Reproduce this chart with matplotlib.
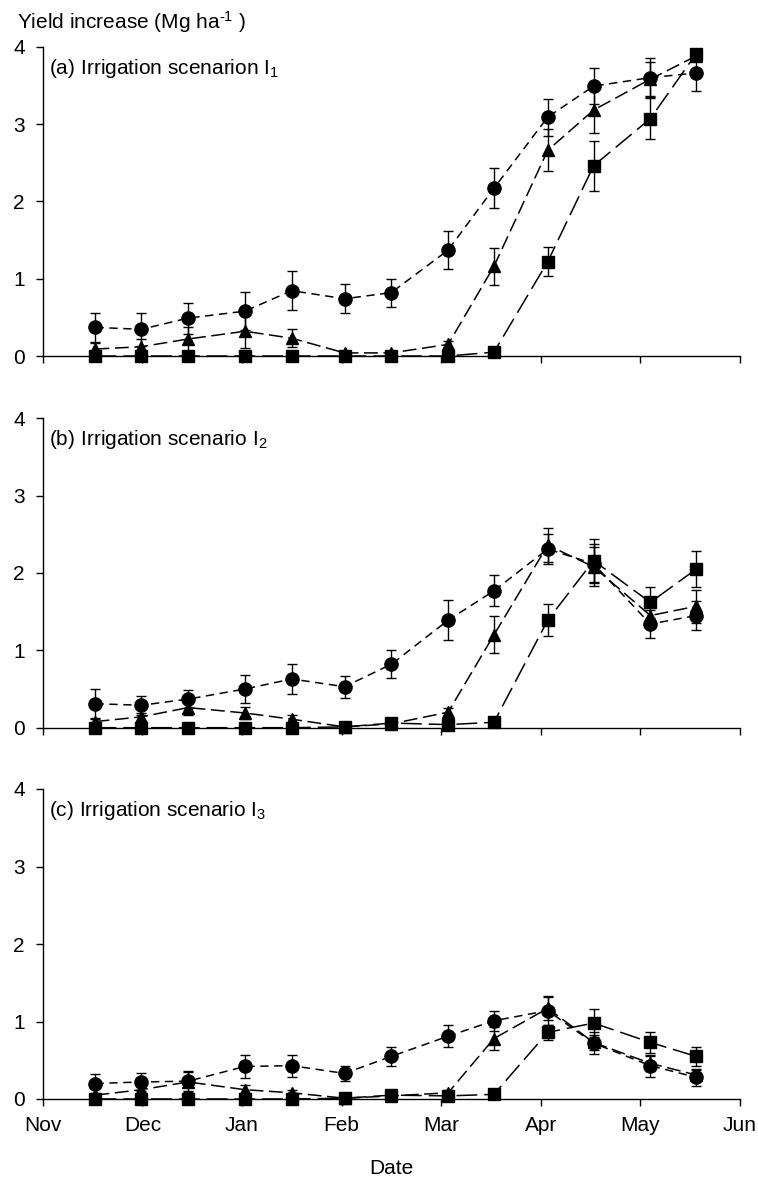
import matplotlib
matplotlib.use("Agg")
import matplotlib.pyplot as plt

plt.rcParams['font.family'] = ['Liberation Sans', 'DejaVu Sans']
plt.rcParams['mathtext.fontset'] = 'custom'
plt.rcParams['mathtext.rm'] = 'Liberation Sans'
plt.rcParams['mathtext.it'] = 'Liberation Sans'
plt.rcParams['lines.scale_dashes'] = False

# x positions: months after 1 Nov
x_dates = [0.53, 0.99, 1.46, 2.03, 2.50, 3.03, 3.50, 4.07, 4.53, 5.07, 5.53, 6.10, 6.56]
month_labels = ['Nov', 'Dec', 'Jan', 'Feb', 'Mar', 'Apr', 'May', 'Jun']

# Panel (a)
a_circ = [0.37, 0.345, 0.49, 0.58, 0.845, 0.74, 0.82, 1.37, 2.17, 3.09, 3.49, 3.60, 3.66]
a_circ_err = [0.19, 0.21, 0.20, 0.25, 0.25, 0.19, 0.18, 0.25, 0.26, 0.24, 0.23, 0.25, 0.23]
a_tri = [0.09, 0.12, 0.22, 0.32, 0.23, 0.04, 0.04, 0.15, 1.16, 2.66, 3.18, 3.58, 3.88]
a_tri_err = [0.08, 0.10, 0.15, 0.22, 0.12, 0.03, 0.03, 0.05, 0.24, 0.27, 0.29, 0.22, 0.05]
a_sq = [0, 0, 0, 0, 0, 0, 0, 0, 0.05, 1.22, 2.46, 3.07, 3.91]
a_sq_err = [0.01, 0.01, 0.01, 0.01, 0.01, 0.01, 0.01, 0.01, 0.03, 0.19, 0.32, 0.27, 0.05]

# Panel (b)
b_circ = [0.31, 0.29, 0.37, 0.50, 0.63, 0.53, 0.82, 1.39, 1.77, 2.31, 2.12, 1.34, 1.45]
b_circ_err = [0.19, 0.12, 0.12, 0.18, 0.19, 0.14, 0.18, 0.26, 0.20, 0.20, 0.25, 0.18, 0.19]
b_tri = [0.08, 0.14, 0.26, 0.19, 0.11, 0.01, 0.05, 0.20, 1.20, 2.36, 2.08, 1.45, 1.57]
b_tri_err = [0.03, 0.05, 0.10, 0.08, 0.05, 0.02, 0.02, 0.05, 0.24, 0.22, 0.25, 0.15, 0.21]
b_sq = [0, 0, 0, 0, 0, 0.01, 0.06, 0.04, 0.07, 1.39, 2.16, 1.62, 2.05]
b_sq_err = [0.01, 0.01, 0.01, 0.01, 0.01, 0.02, 0.02, 0.02, 0.03, 0.21, 0.28, 0.20, 0.23]

# Panel (c)
c_circ = [0.20, 0.22, 0.23, 0.42, 0.43, 0.33, 0.55, 0.81, 1.01, 1.14, 0.72, 0.43, 0.28]
c_circ_err = [0.12, 0.12, 0.13, 0.15, 0.14, 0.10, 0.12, 0.14, 0.13, 0.19, 0.14, 0.14, 0.11]
c_tri = [0.05, 0.12, 0.22, 0.12, 0.08, 0.01, 0.04, 0.08, 0.78, 1.17, 0.73, 0.46, 0.31]
c_tri_err = [0.02, 0.04, 0.13, 0.06, 0.04, 0.01, 0.02, 0.03, 0.15, 0.15, 0.10, 0.10, 0.07]
c_sq = [0, 0, 0, 0, 0, 0.01, 0.05, 0.04, 0.06, 0.86, 0.98, 0.73, 0.55]
c_sq_err = [0.01, 0.01, 0.01, 0.01, 0.01, 0.01, 0.02, 0.02, 0.02, 0.10, 0.18, 0.13, 0.12]

panel_titles = [r'(a) Irrigation scenarion I$_{\mathregular{1}}$',
                r'(b) Irrigation scenario I$_{\mathregular{2}}$',
                r'(c) Irrigation scenario I$_{\mathregular{3}}$']

panels = [
    (a_sq, a_sq_err, a_tri, a_tri_err, a_circ, a_circ_err),
    (b_sq, b_sq_err, b_tri, b_tri_err, b_circ, b_circ_err),
    (c_sq, c_sq_err, c_tri, c_tri_err, c_circ, c_circ_err),
]

W, H = 758, 1178
fig = plt.figure(figsize=(W / 100, H / 100), dpi=100)

left_px, right_px = 42.7, 740.0
tops = [46.7, 418.3, 789.0]
bots = [356.0, 727.7, 1099.0]

FS = 15

for i, (sq, sqe, tr, tre, ci, cie) in enumerate(panels):
    ax = fig.add_axes([left_px / W, 1 - bots[i] / H,
                       (right_px - left_px) / W, (bots[i] - tops[i]) / H])
    common = dict(color='black', mfc='black', mec='black', lw=1.1,
                  elinewidth=1.0, ecolor='black', capsize=3.5, capthick=1.0,
                  clip_on=False)
    for y, e, mk, ms, dash in [(sq, sqe, 's', 8.6, (15, 5)),
                               (tr, tre, '^', 9.0, (10, 4)),
                               (ci, cie, 'o', 9.5, (6, 4))]:
        cont = ax.errorbar(x_dates, y, yerr=e, marker=mk, ms=ms, **common)
        cont[0].set_dashes(dash)
        for art in cont[1] + cont[2]:
            art.set_clip_on(False)
    ax.set_xlim(0, 7)
    ax.set_ylim(0, 4)
    ax.set_yticks([0, 1, 2, 3, 4])
    ax.set_xticks(range(8))
    if i == 2:
        ax.set_xticklabels(month_labels)
    else:
        ax.set_xticklabels([])
    for s in ['top', 'right']:
        ax.spines[s].set_visible(False)
    for s in ['left', 'bottom']:
        ax.spines[s].set_linewidth(1.0)
    ax.tick_params(axis='y', direction='out', length=5, width=1.0,
                   labelsize=FS, pad=8)
    ax.tick_params(axis='x', direction='out', length=5, width=1.0,
                   labelsize=FS, pad=7)
    ax.text(0.009, 0.93, panel_titles[i], transform=ax.transAxes,
            fontsize=FS, ha='left', va='center')

fig.text(17 / W, 1 - 22 / H, r'Yield increase (Mg ha$^{\text{-1}}$ )',
         fontsize=FS, ha='left', va='center')
fig.text(391 / W, 1 - 1168 / H, 'Date', fontsize=FS, ha='center', va='center')

fig.savefig('out.png', dpi=100)
